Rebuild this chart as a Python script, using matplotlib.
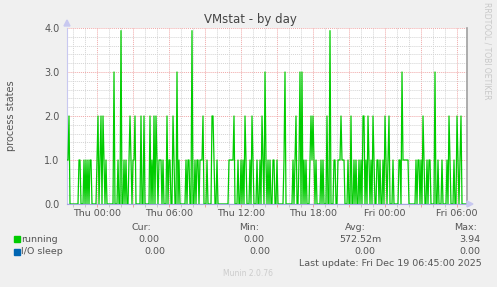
import numpy as np
import matplotlib.pyplot as plt
from matplotlib.ticker import MultipleLocator

# 5-minute samples, Wed 21:30 -> Fri 06:45 (one value per pixel column)
running = [
    1, 1, 2, 0, 0, 0, 0, 0, 0, 0,
    0, 0, 1, 1, 0, 0, 0, 1, 0, 1,
    0, 1, 0, 1, 1, 0, 0, 0, 0, 0,
    1, 2, 0, 1, 2, 0, 2, 1, 0, 1,
    0, 0, 0, 0, 0, 0, 0, 3, 0, 0,
    0, 1, 0, 0, 3.94, 0, 0, 1, 0, 1,
    0, 0, 1, 2, 1, 0, 1, 1, 2, 0,
    0, 0, 0, 0, 2, 0, 0, 2, 0, 0,
    0, 0, 0, 2, 0, 1, 0, 2, 0, 2,
    1, 0, 1, 1, 1, 0, 1, 0, 0, 0,
    2, 0, 1, 1, 0, 0, 2, 1, 0, 0,
    3, 0, 1, 0, 0, 0, 0, 0, 0, 1,
    0, 1, 1, 0, 0, 3.94, 0, 0, 1, 0,
    1, 1, 0, 1, 1, 1, 2, 0, 0, 0,
    1, 0, 0, 0, 0, 2, 2, 1, 0, 0,
    1, 0, 0, 0, 0, 0, 0, 0, 0, 0,
    0, 0, 1, 1, 1, 1, 1, 2, 0, 0,
    0, 1, 0, 0, 1, 0, 1, 0, 2, 1,
    0, 0, 0, 1, 0, 2, 1, 0, 0, 0,
    1, 0, 0, 1, 0, 2, 1, 0, 3, 1,
    0, 1, 0, 1, 0, 0, 1, 1, 0, 0,
    1, 0, 0, 0, 0, 0, 0, 1, 3, 0,
    0, 0, 0, 0, 0, 0, 1, 0, 1, 2,
    0, 0, 1, 3, 0, 3, 0, 1, 0, 1,
    0, 0, 0, 1, 2, 1, 2, 1, 0, 1,
    0, 0, 0, 0, 1, 0, 1, 0, 0, 0,
    2, 0, 0, 3.94, 0, 0, 0, 1, 1, 0,
    0, 1, 1, 1, 2, 1, 1, 1, 0, 0,
    0, 1, 0, 0, 2, 0, 0, 1, 0, 1,
    0, 0, 1, 0, 1, 0, 2, 2, 0, 1,
    0, 2, 1, 0, 1, 0, 2, 1, 0, 0,
    1, 1, 0, 1, 0, 0, 1, 0, 2, 1,
    0, 1, 2, 0, 0, 0, 1, 0, 0, 0,
    0, 0, 1, 1, 0, 3, 1, 1, 1, 1,
    1, 1, 0, 0, 0, 0, 0, 0, 0, 1,
    0, 1, 1, 0, 1, 0, 2, 1, 0, 0,
    1, 0, 1, 1, 0, 0, 0, 0, 3, 0,
    0, 1, 0, 0, 0, 1, 0, 0, 0, 0,
    1, 0, 2, 1, 0, 0, 0, 1, 0, 0,
    2, 1, 0, 1, 2, 0, 0, 0, 0, 0,
]
io_sleep = [0.0] * len(running)

tick_hours = [0, 6, 12, 18, 24, 30]
tick_labels = ['Thu 00:00', 'Thu 06:00', 'Thu 12:00', 'Thu 18:00',
               'Fri 00:00', 'Fri 06:00']

series_names = ['running', 'I/O sleep']
series_colors = ['#00CC00', '#0066B3']
cur_vals = ['0.00', '0.00']
min_vals = ['0.00', '0.00']
avg_vals = ['572.52m', '0.00']
max_vals = ['3.94', '0.00']

W, H = 497, 287
fig = plt.figure(figsize=(W / 100, H / 100), dpi=100, facecolor='#F0F0F0')
ax = fig.add_axes([67 / W, 1 - 204 / H, 400 / W, 176 / H], facecolor='white')


def fx(x):
    return x / W


def fy(y):
    return 1 - y / H


# sample i sits 5 minutes after sample i-1; Thu 00:00 is sample 30
hours = (np.arange(len(running)) - 30) / 12.0
ax.plot(hours, running, color='#00CC00', lw=0.9, zorder=3)
ax.plot(hours, io_sleep, color='#0066B3', lw=0.9, alpha=0.5, zorder=4)

ax.set_xlim(-2.5, 30.8333)
ax.set_ylim(0, 4.0)

ax.xaxis.set_major_locator(MultipleLocator(3))
ax.xaxis.set_minor_locator(MultipleLocator(1))
ax.yaxis.set_major_locator(MultipleLocator(1))
ax.yaxis.set_minor_locator(MultipleLocator(0.2))
ax.grid(which='minor', color='#D4D4D4', linestyle=(0, (1, 1)), lw=0.7, zorder=1)
ax.grid(which='major', color='#F0A8A8', linestyle=(0, (1, 1)), lw=0.7, zorder=2)

ax.tick_params(axis='x', which='major', length=2.5, width=0.7, color='#F0A0A0',
               labelbottom=False)
ax.tick_params(axis='x', which='minor', length=2, width=0.7, color='#C8C8C8')
ax.tick_params(axis='y', which='both', length=0, pad=5.5,
               labelsize=7, labelcolor='#555555')
ax.set_yticks([0, 1, 2, 3, 4])
ax.set_yticklabels(['0.0', '1.0', '2.0', '3.0', '4.0'])

for h, lab in zip(tick_hours, tick_labels):
    fig.text(fx(97 + 12 * h), fy(213), lab, ha='center', va='center',
             fontsize=6.8, color='#555555')

for side in ['top']:
    ax.spines[side].set_visible(False)
ax.spines['left'].set_color('#C8C8F0')
ax.spines['bottom'].set_color('#A8A8E0')
ax.spines['right'].set_color('#A0A0A0')
ax.spines['right'].set_linewidth(1.2)
for side in ['left', 'bottom']:
    ax.spines[side].set_linewidth(0.8)

# axis arrows
fig.patches.append(plt.Polygon([[fx(64), fy(26)], [fx(70), fy(26)], [fx(67), fy(20)]],
                               closed=True, transform=fig.transFigure,
                               color='#C8C8F0', zorder=5))
fig.patches.append(plt.Polygon([[fx(467), fy(201)], [fx(467), fy(207)], [fx(473), fy(204)]],
                               closed=True, transform=fig.transFigure,
                               color='#C8C8F0', zorder=5))

fig.text(fx(250), fy(20), 'VMstat - by day', ha='center', va='center',
         fontsize=8.5, color='#444444')
fig.text(fx(11), fy(116), 'process states', ha='center', va='center',
         rotation=90, fontsize=7, color='#555555')
fig.text(fx(487), fy(51), 'RRDTOOL / TOBI OETIKER', ha='center', va='center',
         rotation=270, fontsize=5.5, color='#C8C8C8')

# legend block
txt = dict(fontsize=6.8, color='#555555', va='center')
fig.text(fx(151), fy(227), 'Cur:', ha='right', **txt)
fig.text(fx(259), fy(227), 'Min:', ha='right', **txt)
fig.text(fx(366), fy(227), 'Avg:', ha='right', **txt)
fig.text(fx(477), fy(227), 'Max:', ha='right', **txt)

row_y = [239, 252]
row_shift = [0, 6]
for i, name in enumerate(series_names):
    y = row_y[i]
    fig.patches.append(plt.Rectangle((fx(14), fy(y + 3)), 6 / W, 6 / H,
                                     transform=fig.transFigure,
                                     color=series_colors[i]))
    fig.text(fx(21), fy(y), name, ha='left', **txt)
    s = row_shift[i]
    fig.text(fx(162 + s - 3), fy(y), cur_vals[i], ha='right', **txt)
    fig.text(fx(264 + s), fy(y), min_vals[i], ha='right', **txt)
    fig.text(fx(382 - 7 * i), fy(y), avg_vals[i], ha='right', **txt)
    fig.text(fx(480), fy(y), max_vals[i], ha='right', **txt)

fig.text(fx(482), fy(264), 'Last update: Fri Dec 19 06:45:00 2025', ha='right', **txt)
fig.text(fx(248), fy(274), 'Munin 2.0.76', ha='center', va='center',
         fontsize=5.5, color='#CCCCCC')

fig.savefig('out.png', dpi=100, facecolor=fig.get_facecolor())
